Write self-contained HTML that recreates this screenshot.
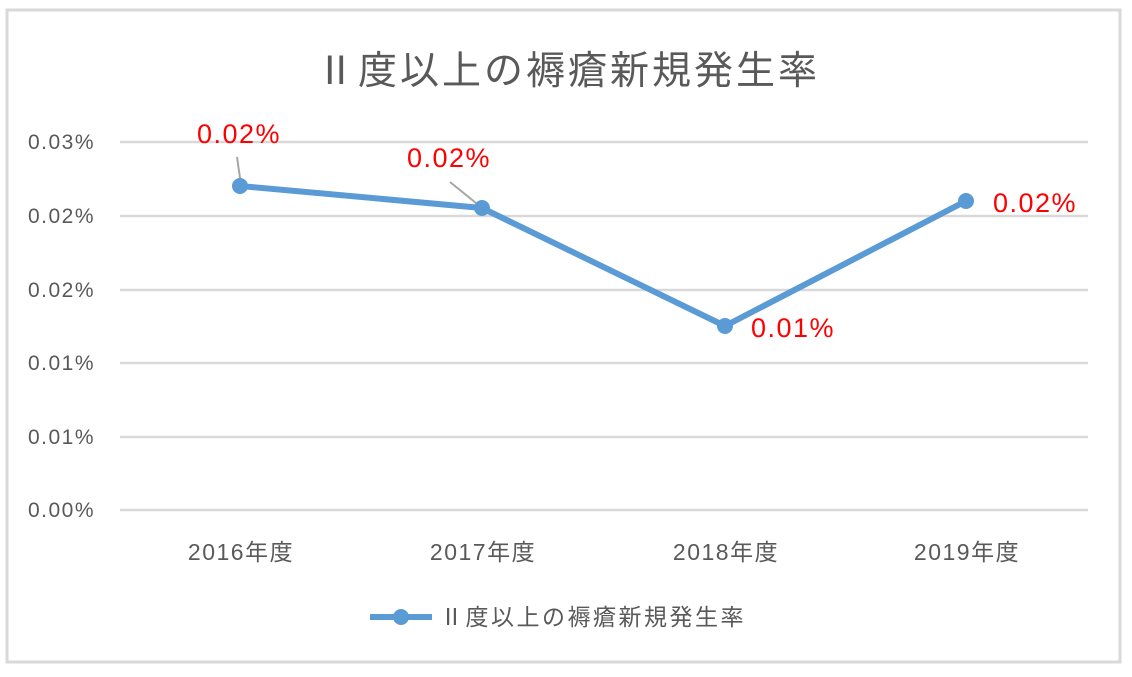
<!DOCTYPE html><html><head><meta charset="utf-8"><style>
body{margin:0;background:#fff;width:1132px;height:672px;overflow:hidden}
</style></head><body>
<svg width="1132" height="672" xmlns="http://www.w3.org/2000/svg" font-family="Liberation Sans, Noto Sans CJK JP, sans-serif">
<rect x="7" y="10" width="1113" height="652" fill="#fff" stroke="#d9d9d9" stroke-width="3"/>
<text x="568" y="84" text-anchor="middle" font-size="39" letter-spacing="3" fill="#595959">Ⅱ度以上の褥瘡新規発生率</text>
<g stroke="#d9d9d9" stroke-width="2.5">
<line x1="120" x2="1088" y1="142" y2="142"/><line x1="120" x2="1088" y1="216" y2="216"/>
<line x1="120" x2="1088" y1="290" y2="290"/><line x1="120" x2="1088" y1="363" y2="363"/>
<line x1="120" x2="1088" y1="437" y2="437"/><line x1="120" x2="1088" y1="510" y2="510"/>
</g>
<g font-size="21" fill="#595959" text-anchor="end" letter-spacing="1.5">
<text x="95" y="149">0.03%</text><text x="95" y="223">0.02%</text><text x="95" y="297">0.02%</text>
<text x="95" y="370">0.01%</text><text x="95" y="444">0.01%</text><text x="95" y="517">0.00%</text>
</g>
<g font-size="23" fill="#595959" text-anchor="middle" letter-spacing="1.5">
<text x="241" y="560">2016年度</text><text x="483" y="560">2017年度</text>
<text x="726" y="560">2018年度</text><text x="967" y="560">2019年度</text>
</g>
<g stroke="#a6a6a6" stroke-width="2"><line x1="237" y1="157" x2="240" y2="178"/><line x1="450" y1="182" x2="476" y2="203"/></g>
<polyline points="240,186 482,208 725,326 966,201" fill="none" stroke="#5b9bd5" stroke-width="6" stroke-linejoin="round"/>
<g fill="#5b9bd5"><circle cx="240" cy="186" r="8"/><circle cx="482" cy="208" r="8"/><circle cx="725" cy="326" r="8"/><circle cx="966" cy="201" r="8"/></g>
<g font-size="27" fill="#ff0000" text-anchor="middle" letter-spacing="1.5">
<text x="239" y="143">0.02%</text><text x="449" y="167">0.02%</text>
<text x="793" y="337">0.01%</text><text x="1035" y="212">0.02%</text>
</g>
<line x1="370" y1="617" x2="432" y2="617" stroke="#5b9bd5" stroke-width="6"/>
<circle cx="401" cy="617" r="8" fill="#5b9bd5"/>
<text x="440" y="625" font-size="23" letter-spacing="2.5" fill="#595959">Ⅱ度以上の褥瘡新規発生率</text>
</svg>
</body></html>
